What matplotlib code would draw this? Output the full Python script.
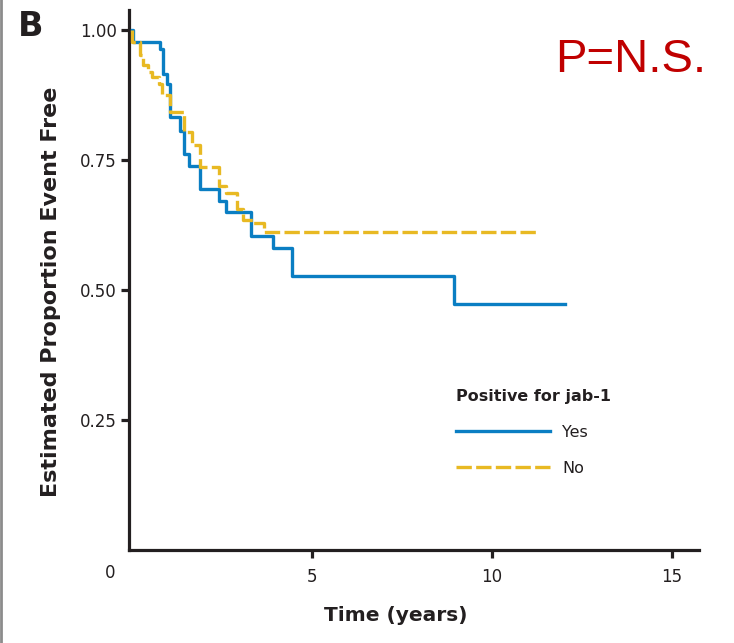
import matplotlib
matplotlib.use("Agg")
import matplotlib.pyplot as plt
from matplotlib.lines import Line2D

# ---- data (Kaplan-Meier step curves) ----
times_yes = [0, 0.03, 0.78, 0.86, 0.97, 1.06, 1.33, 1.44, 1.58, 1.89, 2.42, 2.61, 3.30, 3.92, 4.44, 8.94, 12.03]
surv_yes = [1.0, 0.977, 0.963, 0.915, 0.896, 0.833, 0.806, 0.762, 0.738, 0.694, 0.671, 0.650, 0.604, 0.581, 0.527, 0.473, 0.473]

times_no = [0, 0.01, 0.22, 0.31, 0.45, 0.56, 0.75, 0.83, 1.05, 1.44, 1.67, 1.89, 2.42, 2.61, 2.92, 3.08, 3.36, 3.67, 11.3]
surv_no = [1.0, 0.977, 0.951, 0.932, 0.919, 0.909, 0.896, 0.875, 0.842, 0.804, 0.779, 0.737, 0.700, 0.687, 0.656, 0.635, 0.629, 0.612, 0.612]

group_labels = ["Yes", "No"]
legend_title = "Positive for jab-1"
x_ticks = [5, 10, 15]
y_ticks = [0.25, 0.50, 0.75, 1.00]
y_ticklabels = ["0.25", "0.50", "0.75", "1.00"]

BLUE = "#0a7ec3"
YELLOW = "#e8b923"
DARK = "#231f20"

plt.rcParams['font.family'] = ['DejaVu Sans']

fig = plt.figure(figsize=(7.34, 6.43), dpi=100)
ax = fig.add_axes([129/734, 1-550/643, (699-129)/734, (550-10)/643])

ax.step(times_yes, surv_yes, where='post', color=BLUE, lw=2.4, label=group_labels[0], zorder=3)
ax.step(times_no, surv_no, where='post', color=YELLOW, lw=2.4, dashes=(4.6, 1.3),
        label=group_labels[1], zorder=4)

ax.set_xlim(-0.083, 15.75)
ax.set_ylim(0, 1.038)

for s in ['top', 'right']:
    ax.spines[s].set_visible(False)
for s in ['left', 'bottom']:
    ax.spines[s].set_linewidth(2.3)
    ax.spines[s].set_color(DARK)

ax.set_xticks(x_ticks)
ax.set_xticklabels([str(v) for v in x_ticks])
ax.set_yticks(y_ticks)
ax.set_yticklabels(y_ticklabels)
ax.tick_params(axis='both', length=6, width=2.3, color=DARK, labelsize=12, labelcolor=DARK)
ax.tick_params(axis='x', pad=7)
ax.tick_params(axis='y', pad=3)

# the "0" label, left of the origin
ax.text(-0.61, -0.045, "0", transform=ax.transData, ha='center', va='center',
        fontsize=12, color=DARK)

ax.set_xlabel("Time (years)", fontsize=14.5, fontweight='bold', color=DARK)
ax.xaxis.set_label_coords((396-129)/570, -(606-550)/540)
ax.set_ylabel("Estimated Proportion Event Free", fontsize=16, fontweight='bold', color=DARK)
ax.yaxis.set_label_coords(-(129-61)/570, 1-(292-10)/540)

leg = ax.legend(title=legend_title, frameon=False, loc='upper left',
                bbox_to_anchor=((456-129)/570, 1-(389-10)/540),
                fontsize=11.5, title_fontsize=11.5, handlelength=5.9, handletextpad=0.75,
                labelspacing=1.3, borderaxespad=0, borderpad=0)
leg._legend_box.align = "left"
leg.get_title().set_fontweight('bold')
leg.get_title().set_color(DARK)
for t in leg.get_texts():
    t.set_color(DARK)

fig.text(18/734, 1-26/643, "B", fontsize=24, fontweight='bold', color=DARK, ha='left', va='center')
fig.text(706/734, 1-60/643, "P=N.S.", fontsize=34, color="#c00000", ha='right', va='center',
         family='Liberation Sans')

fig.add_artist(Line2D([0.0015, 0.0015], [0, 1], transform=fig.transFigure, color='#8c8c8c', lw=2))

fig.savefig("out.png", dpi=100)
